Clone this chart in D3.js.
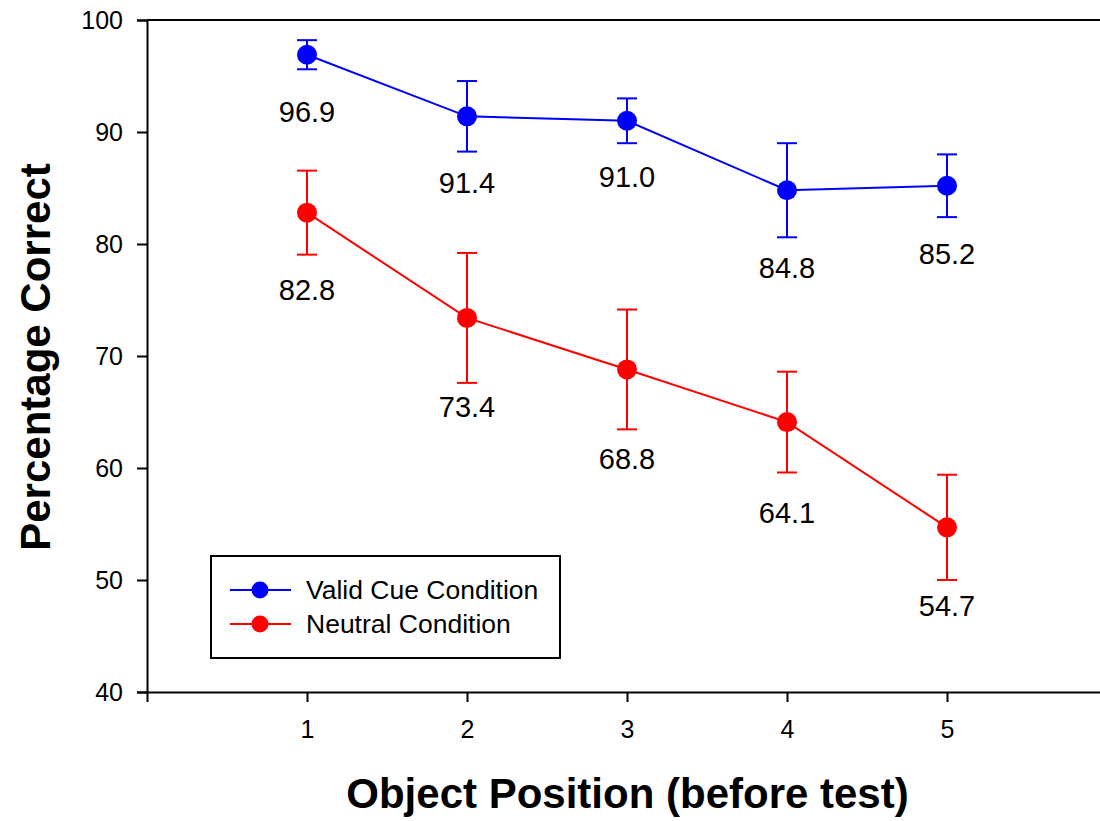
<!DOCTYPE html>
<html lang="en">
<head>
    <meta charset="utf-8">
    <title>Percentage Correct by Object Position</title>
    <script src="https://cdn.jsdelivr.net/npm/d3@7/dist/d3.min.js"></script>
    <style>
        body {
            margin: 0;
            background: #fff;
        }

        svg text {
            font-family: Arial, "Liberation Sans", sans-serif;
            fill: #000;
        }
    </style>
</head>
<body>
    <div id="chart"></div>

    <script type="text/javascript">
        // data
        var positions = [1, 2, 3, 4, 5];
        var validValues = [96.9, 91.4, 91.0, 84.8, 85.2];
        var validErrors = [1.3, 3.15, 2.0, 4.2, 2.8];
        var neutralValues = [82.8, 73.4, 68.8, 64.1, 54.7];
        var neutralErrors = [3.75, 5.8, 5.35, 4.5, 4.7];
        var yTicks = [40, 50, 60, 70, 80, 90, 100];
        var seriesNames = ["Valid Cue Condition", "Neutral Condition"];

        // hand-placed value labels: distance below the point (px)
        var validLabelDy = [67, 77, 66, 88, 78];
        var neutralLabelDy = [87, 99, 100, 101, 89];

        var width = 1100, height = 821;
        var plotLeft = 147, plotTop = 20, plotBottom = 692;

        var svg = d3.select('#chart')
            .append('svg')
            .attr('width', width)
            .attr('height', height);

        var x = d3.scaleLinear().domain([0, 6]).range([plotLeft, plotLeft + 960]);
        var y = d3.scaleLinear().domain([40, 100]).range([plotBottom, plotTop]);

        // top frame line
        svg.append('line')
            .attr('x1', plotLeft).attr('x2', width)
            .attr('y1', plotTop).attr('y2', plotTop)
            .attr('stroke', '#000').attr('stroke-width', 2);

        var yAxis = svg.append('g')
            .attr('transform', `translate(${plotLeft},0)`)
            .call(d3.axisLeft(y).tickValues(yTicks).tickSize(10).tickPadding(14).tickFormat(d3.format('d')));

        var xAxis = svg.append('g')
            .attr('transform', `translate(0,${plotBottom})`)
            .call(d3.axisBottom(x).tickValues(positions).tickSize(10).tickPadding(18).tickFormat(d3.format('d')));

        [yAxis, xAxis].forEach(g => {
            g.select('.domain').attr('stroke', '#000').attr('stroke-width', 2);
            g.selectAll('.tick line').attr('stroke', '#000').attr('stroke-width', 2);
            g.selectAll('text')
                .style('font-family', 'Arial, "Liberation Sans", sans-serif')
                .style('font-size', '25px')
                .attr('fill', '#000');
        });

        // axis titles
        svg.append('text')
            .attr('x', (343 + 912) / 2)
            .attr('y', 808)
            .attr('text-anchor', 'middle')
            .style('font-size', '42px')
            .style('font-weight', 'bold')
            .text('Object Position (before test)');

        svg.append('text')
            .attr('transform', 'translate(50,357) rotate(-90)')
            .attr('text-anchor', 'middle')
            .style('font-size', '42px')
            .style('font-weight', 'bold')
            .text('Percentage Correct');

        function drawSeries(values, errors, labelDy, color) {
            var pts = positions.map((p, i) => ({ p: p, v: values[i], e: errors[i], dy: labelDy[i] }));
            var g = svg.append('g');

            g.append('path')
                .datum(pts)
                .attr('fill', 'none')
                .attr('stroke', color)
                .attr('stroke-width', 2)
                .attr('d', d3.line().x(d => x(d.p)).y(d => y(d.v)));

            var bars = g.selectAll('.err').data(pts).enter().append('g')
                .attr('stroke', color).attr('stroke-width', 2);
            bars.append('line')
                .attr('x1', d => x(d.p)).attr('x2', d => x(d.p))
                .attr('y1', d => y(d.v + d.e)).attr('y2', d => y(d.v - d.e));
            bars.append('line')
                .attr('x1', d => x(d.p) - 10).attr('x2', d => x(d.p) + 10)
                .attr('y1', d => y(d.v + d.e)).attr('y2', d => y(d.v + d.e));
            bars.append('line')
                .attr('x1', d => x(d.p) - 10).attr('x2', d => x(d.p) + 10)
                .attr('y1', d => y(d.v - d.e)).attr('y2', d => y(d.v - d.e));

            g.selectAll('circle').data(pts).enter().append('circle')
                .attr('cx', d => x(d.p))
                .attr('cy', d => y(d.v))
                .attr('r', 10)
                .attr('fill', color);

            g.selectAll('.lbl').data(pts).enter().append('text')
                .attr('x', d => x(d.p))
                .attr('y', d => y(d.v) + d.dy)
                .attr('text-anchor', 'middle')
                .style('font-size', '29px')
                .text(d => d.v.toFixed(1));
        }

        drawSeries(validValues, validErrors, validLabelDy, '#0000ff');
        drawSeries(neutralValues, neutralErrors, neutralLabelDy, '#ff0000');

        // legend
        var legend = svg.append('g');
        legend.append('rect')
            .attr('x', 211).attr('y', 556)
            .attr('width', 349).attr('height', 102)
            .attr('fill', '#fff')
            .attr('stroke', '#000').attr('stroke-width', 2);

        var legendColors = ['#0000ff', '#ff0000'];
        seriesNames.forEach((name, i) => {
            var ly = 590 + i * 34;
            legend.append('line')
                .attr('x1', 230).attr('x2', 291)
                .attr('y1', ly).attr('y2', ly)
                .attr('stroke', legendColors[i]).attr('stroke-width', 2);
            legend.append('circle')
                .attr('cx', 260).attr('cy', ly).attr('r', 8.5)
                .attr('fill', legendColors[i]);
            legend.append('text')
                .attr('x', 306).attr('y', ly + 9)
                .style('font-size', '26.5px')
                .text(name);
        });
    </script>
</body>
</html>
